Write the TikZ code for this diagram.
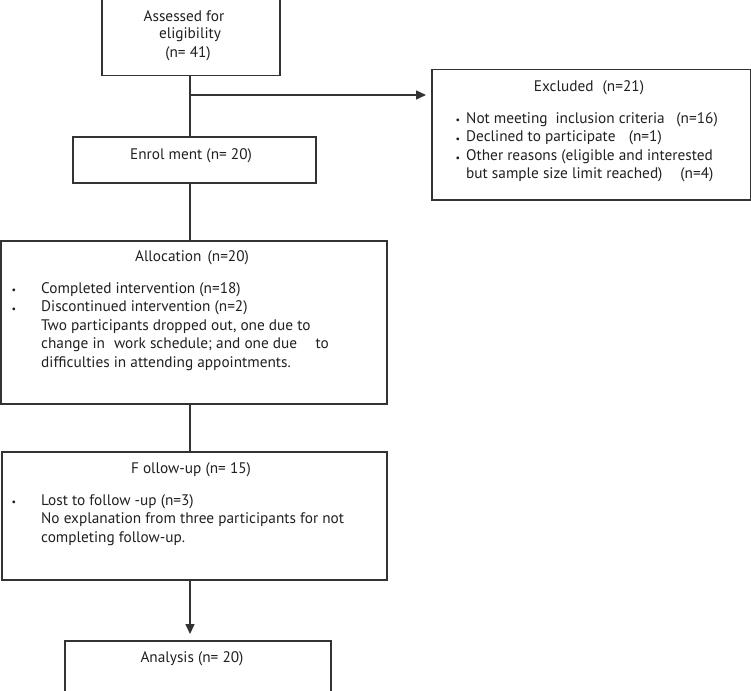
\documentclass[tikz,border=0pt]{standalone}
\usepackage{fontspec}
\setmainfont{PT Sans}
\usetikzlibrary{arrows.meta}
\definecolor{linec}{HTML}{333333}
\definecolor{textc}{HTML}{231F20}
\newcommand\diagfs{\fontsize{15.3}{18.6}\selectfont}
\newcommand\bulfs{\fontsize{10}{18.6}\selectfont}
\begin{document}
\begin{tikzpicture}[x=1pt,y=-1pt,
  box/.style={draw=linec,line width=1.5pt,inner sep=0pt,anchor=north west},
  conn/.style={draw=linec,line width=1.5pt},
  arr/.style={conn,-{Triangle[length=10pt,width=9pt]}},
  txt/.style={inner sep=0pt,anchor=base,font=\diagfs,text=textc},
  ltxt/.style={inner sep=0pt,anchor=base west,align=left,font=\diagfs,text=textc},
  bul/.style={inner sep=0pt,anchor=base,font=\bulfs,text=textc}]
\useasboundingbox (0,0) rectangle (751,690);
% boxes
\node[box,minimum width=178pt,minimum height=80pt] (assess) at (101,-5) {};
\node[box,minimum width=319pt,minimum height=130pt] (excl) at (431,69) {};
\node[box,minimum width=243pt,minimum height=46pt] (enrol) at (72,136) {};
\node[box,minimum width=386pt,minimum height=163pt] (alloc) at (0,240) {};
\node[box,minimum width=385pt,minimum height=128pt] (follow) at (1,451) {};
\node[box,minimum width=266pt,minimum height=52pt] (anal) at (64,640) {};
% texts
\node[txt] (t1) at (184,22) {Assessed for};
\node[txt] (t2) at (190,39) {eligibility};
\node[txt] (t3) at (188,58) {(n= 41)};
\node[txt] (t4) at (589,92) {Excluded\hspace{0.6em}(n=21)};
\node[bul] (b1) at (458,123) {•};
\node[bul] (b2) at (458,142) {•};
\node[bul] (b3) at (458,161) {•};
\node[ltxt] (t5) at (466,123+3*18.6) {Not meeting\hspace{0.25em} inclusion criteria\hspace{0.5em} (n=16)\\
Declined to participate\hspace{0.6em} (n=1)\\
Other reasons (eligible and interested\\
but sample size limit reached)\hspace{0.9em} (n=4)};
\node[txt] (t6) at (191,159) {Enrol ment (n= 20)};
\node[txt] (t7) at (192,261) {Allocation\hspace{0.4em}(n=20)};
\node[bul] (b4) at (14,293) {•};
\node[bul] (b5) at (14,312) {•};
\node[ltxt] (t8) at (41,293+4*18.6) {Completed intervention (n=18)\\
Discontinued intervention (n=2)\\
Two participants dropped out, one due to\\
change in\hspace{0.6em}work schedule; and one due\hspace{1.2em}to\\
difficulties in attending appointments.};
\node[txt] (t9) at (191,473) {F ollow-up (n= 15)};
\node[bul] (b6) at (14,505) {•};
\node[ltxt] (t10) at (41,505+2*18.6) {Lost to follow -up (n=3)\\
No explanation from three participants for not\\
completing follow-up.};
\node[txt] (t11) at (192,662) {Analysis (n= 20)};
% connectors
\coordinate (j) at (190,95);
\draw[conn] (190,0 |- assess.south) -- (190,0 |- enrol.north);
\draw[arr] (j) -- ([xshift=-5pt]j -| excl.west);
\draw[conn] (190,0 |- enrol.south) -- (190,0 |- alloc.north);
\draw[conn] (190,0 |- alloc.south) -- (190,0 |- follow.north);
\draw[arr] (190,0 |- follow.south) -- ([yshift=6pt]190,0 |- anal.north);
\end{tikzpicture}
\end{document}
